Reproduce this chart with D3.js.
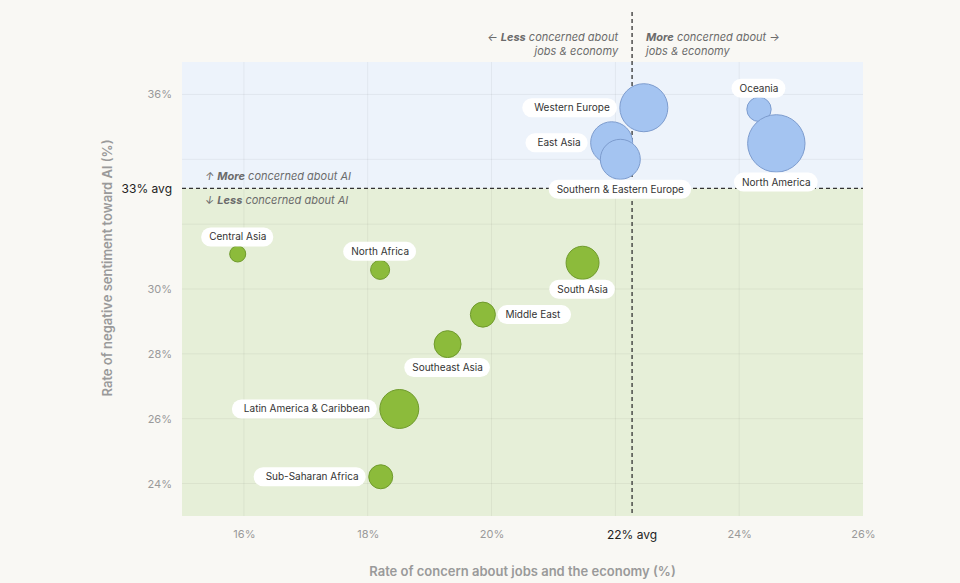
<!DOCTYPE html>
<html>
<head>
<meta charset="utf-8">
<script src="https://cdn.jsdelivr.net/npm/d3@7"></script>
<style>
  html, body { margin: 0; padding: 0; background: #f9f8f4; }
  svg { display: block; font-family: "Inter", "Noto Sans", sans-serif; }
</style>
</head>
<body>
<div id="wrapper"></div>
<script>
// regions, x = jobs & economy concern (%), y = negative sentiment toward AI (%)
var regions = ["Western Europe", "East Asia", "Southern & Eastern Europe", "Oceania", "North America",
               "Central Asia", "North Africa", "South Asia", "Middle East", "Southeast Asia",
               "Latin America & Caribbean", "Sub-Saharan Africa"];
var jobsConcern = [22.46, 21.94, 22.08, 24.32, 24.6, 15.9, 18.2, 21.47, 19.86, 19.29, 18.51, 18.21];
var negSentiment = [35.59, 34.51, 34.0, 35.54, 34.49, 31.08, 30.59, 30.81, 29.21, 28.3, 26.3, 24.21];
var bubbleSize = [70, 53.5, 48.5, 18, 100, 7.8, 11, 33, 19, 22, 46, 17.5];
var labelSide = ["left", "left", "below", "above", "below", "above", "above", "below", "right", "below", "left", "left"];

var xTicks = [16, 18, 20, 24, 26];
var yTicks = [24, 26, 28, 30, 36];
var xGrid = [16, 18, 20, 22, 24];
var yGrid = [24, 26, 28, 30, 32, 34, 36];
var xAvg = 22.27, yAvg = 33.1;

var data = regions.map(function (name, i) {
  return { name: name, x: jobsConcern[i], y: negSentiment[i], size: bubbleSize[i], side: labelSide[i] };
});

var W = 960, H = 583;
var margin = { top: 62, right: 97, bottom: 67, left: 182 };
var width = W - margin.left - margin.right,
    height = H - margin.top - margin.bottom;

var x = d3.scaleLinear().domain([15, 26]).range([0, width]);
var y = d3.scaleLinear().domain([23, 37]).range([height, 0]);
var r = d3.scaleSqrt().domain([0, 100]).range([0, 28.7]);

var svg = d3.select("#wrapper").append("svg")
    .attr("width", W).attr("height", H);
var g = svg.append("g")
    .attr("transform", "translate(" + margin.left + "," + margin.top + ")");

// quadrant backgrounds
g.append("rect")
    .attr("x", 0).attr("y", 0)
    .attr("width", width).attr("height", y(yAvg))
    .attr("fill", "#edf3fb");
g.append("rect")
    .attr("x", 0).attr("y", y(yAvg))
    .attr("width", width).attr("height", height - y(yAvg))
    .attr("fill", "#e6efd8");

// grid
g.selectAll(".vgrid").data(xGrid).enter().append("line")
    .attr("x1", function (d) { return x(d); }).attr("x2", function (d) { return x(d); })
    .attr("y1", 0).attr("y2", height)
    .attr("stroke", "rgba(0,0,0,0.05)");
g.selectAll(".hgrid").data(yGrid).enter().append("line")
    .attr("y1", function (d) { return y(d); }).attr("y2", function (d) { return y(d); })
    .attr("x1", 0).attr("x2", width)
    .attr("stroke", "rgba(0,0,0,0.05)");

// axes (labels only)
var xAxis = g.append("g")
    .attr("transform", "translate(0," + height + ")")
    .call(d3.axisBottom(x).tickValues(xTicks).tickSize(0).tickPadding(14)
      .tickFormat(function (d) { return d + "%"; }));
var yAxis = g.append("g")
    .call(d3.axisLeft(y).tickValues(yTicks).tickSize(0).tickPadding(10)
      .tickFormat(function (d) { return d + "%"; }));
[xAxis, yAxis].forEach(function (a) {
  a.select(".domain").remove();
  a.selectAll("text")
      .attr("fill", "#9a9a9a")
      .style("font-size", "11px")
      .style("font-family", "Inter, sans-serif");
});

// average lines
g.append("line")
    .attr("x1", 0).attr("x2", width)
    .attr("y1", y(yAvg)).attr("y2", y(yAvg))
    .attr("stroke", "#333").attr("stroke-width", 1.3)
    .attr("stroke-dasharray", "4,3");
g.append("line")
    .attr("x1", x(xAvg)).attr("x2", x(xAvg))
    .attr("y1", -50).attr("y2", height)
    .attr("stroke", "#333").attr("stroke-width", 1.3)
    .attr("stroke-dasharray", "4,3");

g.append("text")
    .attr("x", -10).attr("y", y(yAvg)).attr("dy", "0.35em")
    .attr("text-anchor", "end")
    .attr("fill", "#222").style("font-size", "12px")
    .text(yAvg.toFixed(0) + "% avg");
g.append("text")
    .attr("x", x(xAvg)).attr("y", height + 14).attr("dy", "0.71em")
    .attr("text-anchor", "middle")
    .attr("fill", "#222").style("font-size", "12px")
    .text(xAvg.toFixed(0) + "% avg");

// quadrant annotations
function annotate(tx, ty, anchor, bold, rest) {
  var t = g.append("text")
      .attr("x", tx).attr("y", ty).attr("dy", "0.35em")
      .attr("text-anchor", anchor)
      .attr("fill", "#6b6b6b")
      .style("font-size", "11px").style("font-style", "italic");
  bold.forEach(function (part) {
    t.append("tspan").style("font-weight", part[1] ? "700" : "400").text(part[0]);
  });
  if (rest) {
    g.append("text")
        .attr("x", tx).attr("y", ty + 14).attr("dy", "0.35em")
        .attr("text-anchor", anchor)
        .attr("fill", "#6b6b6b")
        .style("font-size", "11px").style("font-style", "italic")
        .text(rest);
  }
}
annotate(x(xAvg) - 14, -25, "end", [["\u2190 ", false], ["Less", true], [" concerned about", false]], "jobs & economy");
annotate(x(xAvg) + 14, -25, "start", [["More", true], [" concerned about \u2192", false]], "jobs & economy");
annotate(23, y(yAvg) - 12, "start", [["\u2191 ", false], ["More", true], [" concerned about AI", false]]);
annotate(23, y(yAvg) + 12, "start", [["\u2193 ", false], ["Less", true], [" concerned about AI", false]]);

// bubbles
g.selectAll(".bubble").data(data).enter().append("circle")
    .attr("class", "bubble")
    .attr("cx", function (d) { return x(d.x); })
    .attr("cy", function (d) { return y(d.y); })
    .attr("r", function (d) { return r(d.size); })
    .attr("fill", function (d) { return d.y > yAvg ? "#a4c4f1" : "#8cbb3b"; })
    .attr("stroke", function (d) { return d.y > yAvg ? "#7d9cce" : "#6f9a2c"; })
    .attr("stroke-width", 1);

// labels with pill backgrounds
var labels = g.selectAll(".lbl").data(data).enter().append("g").attr("class", "lbl");
labels.each(function (d) {
  var lg = d3.select(this);
  var cx = x(d.x), cy = y(d.y), rr = r(d.size);
  var tx = cx, ty = cy, anchor = "middle";
  if (d.side === "left") { tx = cx - rr - 10; anchor = "end"; }
  if (d.side === "right") { tx = cx + rr + 10; anchor = "start"; }
  if (d.side === "above") { ty = cy - rr - 9; }
  if (d.side === "below") { ty = cy + rr + 10; }
  var pill = lg.append("rect").attr("fill", "#ffffff");
  var t = lg.append("text")
      .attr("x", tx).attr("y", ty).attr("dy", "0.35em")
      .attr("text-anchor", anchor)
      .attr("fill", "#333").style("font-size", "10px")
      .text(d.name);
  var bb = t.node().getBBox();
  var padL = d.side === "left" ? 12 : 8, padR = d.side === "right" ? 10 : 7;
  pill.attr("x", bb.x - padL).attr("y", ty - 9.5)
      .attr("width", bb.width + padL + padR).attr("height", 19)
      .attr("rx", 9.5);
});

// axis titles
svg.append("text")
    .attr("x", margin.left + width / 2).attr("y", 571).attr("dy", "0.35em")
    .attr("text-anchor", "middle")
    .attr("fill", "#9a9a9a").style("font-size", "13px").style("font-weight", "600")
    .text("Rate of concern about jobs and the economy (%)");
svg.append("text")
    .attr("transform", "translate(107," + (margin.top + 206) + ") rotate(-90)")
    .attr("dy", "0.35em")
    .attr("text-anchor", "middle")
    .attr("fill", "#9a9a9a").style("font-size", "13px").style("font-weight", "600")
    .text("Rate of negative sentiment toward AI (%)");
</script>
</body>
</html>
